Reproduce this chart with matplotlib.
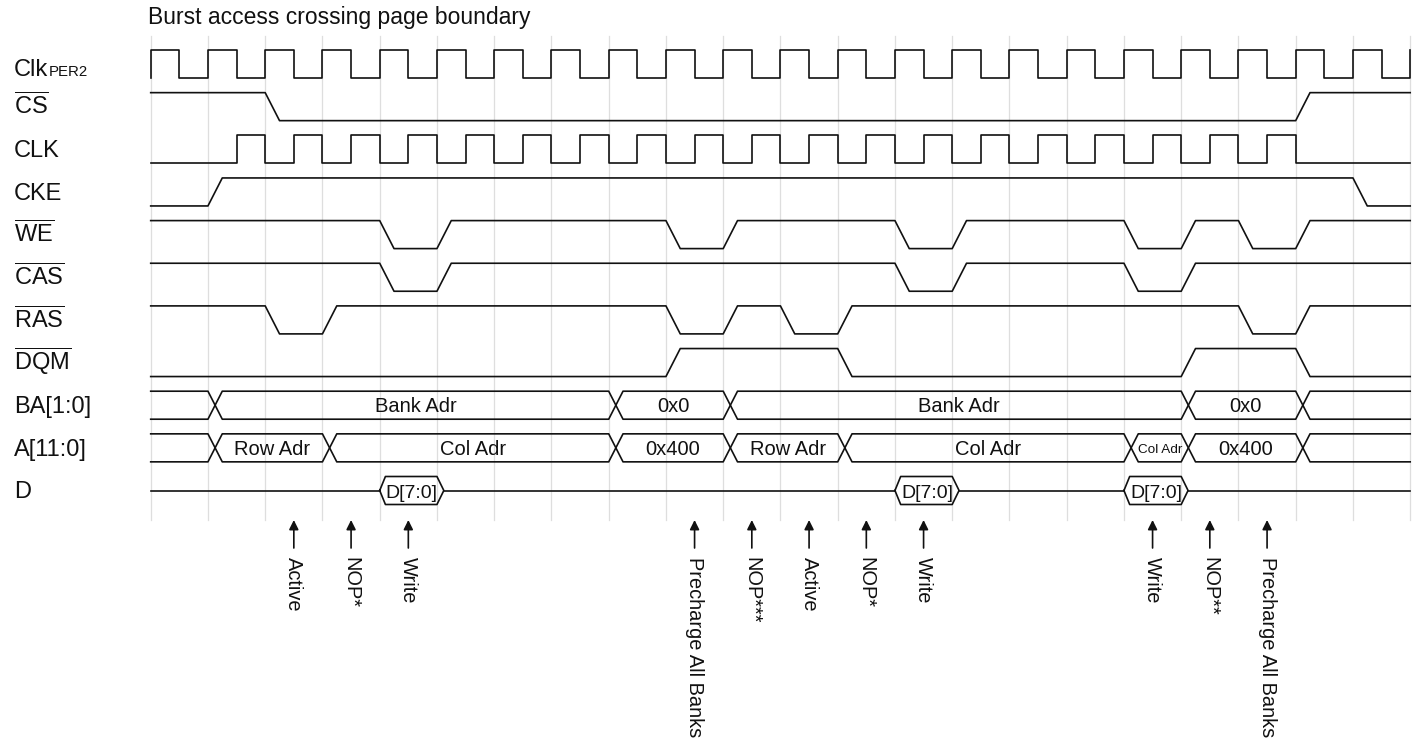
import matplotlib
matplotlib.use("Agg")
import matplotlib.pyplot as plt

plt.rcParams["font.family"] = ["Liberation Sans", "DejaVu Sans"]
plt.rcParams["mathtext.fontset"] = "custom"
plt.rcParams["mathtext.rm"] = "Liberation Sans"

# ---- timing data (time in clock cycles) ----
N_CYCLES = 22
clk_per2_high = [0, 1, 2, 3, 4, 5, 6, 7, 8, 9, 10, 11, 12, 13, 14, 15, 16, 17, 18, 19, 20, 21, 22]
clk_high = [1.5, 2.5, 3.5, 4.5, 5.5, 6.5, 7.5, 8.5, 9.5, 10.5, 11.5, 12.5, 13.5, 14.5, 15.5,
            16.5, 17.5, 18.5, 19.5]

cs_start, cs_edges = 1, [2, 20]
cke_start, cke_edges = 0, [1, 21]
we_start, we_edges = 1, [4, 5, 9, 10, 13, 14, 17, 18, 19, 20]
cas_start, cas_edges = 1, [4, 5, 13, 14, 17, 18]
ras_start, ras_edges = 1, [2, 3, 9, 10, 11, 12, 19, 20]
dqm_start, dqm_edges = 0, [9, 12, 18, 20]

ba_edges = [1, 8, 10, 18, 20]
ba_labels = ["", "Bank Adr", "0x0", "Bank Adr", "0x0", ""]
a_edges = [1, 3, 8, 10, 12, 17, 18, 20]
a_labels = ["", "Row Adr", "Col Adr", "0x400", "Row Adr", "Col Adr", "Col Adr", "0x400", ""]
a_small = [False, False, False, False, False, False, True, False, False]

d_bursts = [4, 13, 17]

cmd_times = [2.5, 3.5, 4.5, 9.5, 10.5, 11.5, 12.5, 13.5, 17.5, 18.5, 19.5]
cmd_labels = ["Active", "NOP*", "Write", "Precharge All Banks", "NOP***", "Active", "NOP*",
              "Write", "Write", "NOP**", "Precharge All Banks"]

signal_names = [None, r"$\overline{\mathrm{CS}}$", "CLK", "CKE", r"$\overline{\mathrm{WE}}$",
                r"$\overline{\mathrm{CAS}}$", r"$\overline{\mathrm{RAS}}$",
                r"$\overline{\mathrm{DQM}}$", "BA[1:0]", "A[11:0]", "D"]

# ---- layout (pixels) ----
W_PX, H_PX = 1417, 742
X0_PX, DX_PX = 150.7, 57.25      # x of t=0, pixels per cycle
Y0_PX, DY_PX = 64.0, 42.65       # y of first row centre, pixels per row
HALF = 14.0 / DY_PX              # half signal swing in row units
SLOPE = 0.25                     # edge / crossing width in cycles
LW = 1.2
INK = "#111111"


def t_of(px):
    return (px - X0_PX) / DX_PX


def r_of(px):
    return (px - Y0_PX) / DY_PX


fig = plt.figure(figsize=(W_PX / 100, H_PX / 100), dpi=100)
ax = fig.add_axes([0, 0, 1, 1])
ax.set_xlim(t_of(0), t_of(W_PX))
ax.set_ylim(r_of(H_PX), r_of(0))
ax.axis("off")

# grid
for k in range(N_CYCLES + 1):
    ax.plot([k, k], [r_of(36), r_of(520)], color="#dedede", lw=0.9, zorder=0)


def lvl(row, high):
    return row - HALF if high else row + HALF


def draw_clock(row, highs):
    xs, ys = [0], [lvl(row, 0)]
    for h in highs:
        b = min(h + 0.5, N_CYCLES)
        if b == h:
            xs += [h, h]
            ys += [lvl(row, 0), lvl(row, 1)]
            break
        xs += [h, h, b, b]
        ys += [lvl(row, 0), lvl(row, 1), lvl(row, 1), lvl(row, 0)]
    else:
        xs.append(N_CYCLES)
        ys.append(lvl(row, 0))
    ax.plot(xs, ys, color=INK, lw=LW)


def draw_digital(row, start, edges):
    xs, ys = [0], [lvl(row, start)]
    cur = start
    for e in edges:
        xs += [e, e + SLOPE]
        ys += [lvl(row, cur), lvl(row, 1 - cur)]
        cur = 1 - cur
    xs.append(N_CYCLES)
    ys.append(lvl(row, cur))
    ax.plot(xs, ys, color=INK, lw=LW)


def draw_bus(row, edges, labels, small):
    top, bot = row - HALF, row + HALF
    for a, b in ((top, bot), (bot, top)):
        xs, ys = [0], [a]
        for e in edges:
            xs += [e, e + SLOPE]
            ys += [a, b]
            a, b = b, a
        xs.append(N_CYCLES)
        ys.append(a)
        ax.plot(xs, ys, color=INK, lw=LW)
    starts = [0] + [e + SLOPE for e in edges]
    ends = edges + [N_CYCLES]
    for s, e, lab, sm in zip(starts, ends, labels, small):
        if lab:
            ax.text((s + e) / 2, row + (4.8 if sm else 7.3) / DY_PX, lab, ha="center",
                    va="baseline", fontsize=9.7 if sm else 14.5, color=INK)


def draw_data(row, bursts):
    top, bot = row - HALF, row + HALF
    pos = 0
    for b in bursts:
        ax.plot([pos, b], [row, row], color=INK, lw=LW)
        ax.plot([b, b + 0.1, b + 1.0, b + 1.12, b + 1.0, b + 0.1, b],
                [row, top, top, row, bot, bot, row], color=INK, lw=LW)
        ax.text(b + 0.56, row + 7.0 / DY_PX, "D[7:0]", ha="center", va="baseline",
                fontsize=14, color=INK)
        pos = b + 1.12
    ax.plot([pos, N_CYCLES], [row, row], color=INK, lw=LW)


draw_clock(0, clk_per2_high)
draw_digital(1, cs_start, cs_edges)
draw_clock(2, clk_high)
draw_digital(3, cke_start, cke_edges)
draw_digital(4, we_start, we_edges)
draw_digital(5, cas_start, cas_edges)
draw_digital(6, ras_start, ras_edges)
draw_digital(7, dqm_start, dqm_edges)
draw_bus(8, ba_edges, ba_labels, [False] * len(ba_labels))
draw_bus(9, a_edges, a_labels, a_small)
draw_data(10, d_bursts)

# signal names
ax.text(t_of(14), r_of(76), "Clk", ha="left", va="baseline", fontsize=17, color=INK)
ax.text(t_of(49), r_of(76.5), "PER2", ha="left", va="baseline", fontsize=10.8, color=INK)
for row, name in enumerate(signal_names):
    if name:
        ax.text(t_of(14), row + 8.0 / DY_PX, name, ha="left", va="baseline", fontsize=17,
                color=INK)

ax.text(t_of(148), r_of(24), "Burst access crossing page boundary", ha="left",
        va="baseline", fontsize=16.5, color=INK)

# command arrows
for t, lab in zip(cmd_times, cmd_labels):
    ax.annotate("", xy=(t, r_of(520)), xytext=(t, r_of(548)),
                arrowprops=dict(arrowstyle="-|>", color=INK, lw=1.2, shrinkA=0, shrinkB=0,
                                mutation_scale=14))
    ax.text(t, r_of(557), lab, rotation=270, ha="center", va="top", fontsize=14.4,
            color=INK)

fig.savefig("out.png", dpi=100)
